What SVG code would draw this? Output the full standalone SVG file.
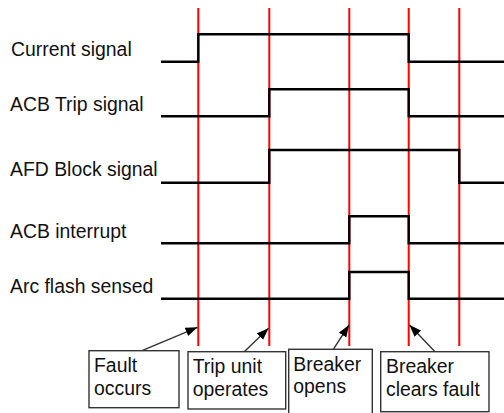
<svg xmlns="http://www.w3.org/2000/svg" width="504" height="413" viewBox="0 0 504 413">
  <style>
    .lbl { font-family: "Liberation Sans", Arial, sans-serif; font-size: 19.4px; fill: #111; }
    .sig { fill: none; stroke: #000; stroke-width: 2.4; stroke-linejoin: miter; }
    .red { stroke: #ff0000; stroke-width: 2; }
    .box { fill: #fff; stroke: #333; stroke-width: 1.4; }
    .arr { stroke: #333; stroke-width: 1.4; fill: none; marker-end: url(#ah); }
  </style>
  <defs>
    <marker id="ah" markerUnits="userSpaceOnUse" markerWidth="14" markerHeight="11" refX="12" refY="4.5" orient="auto">
      <path d="M0,0 L12,4.5 L0,9 z" fill="#000"/>
    </marker>
  </defs>
  <rect width="504" height="413" fill="#fff"/>

  <g id="timelines">
    <line class="red" x1="198.3" y1="8" x2="198.3" y2="346"/>
    <line class="red" x1="269.3" y1="8" x2="269.3" y2="346"/>
    <line class="red" x1="349.3" y1="8" x2="349.3" y2="346"/>
    <line class="red" x1="408.7" y1="8" x2="408.7" y2="346"/>
    <line class="red" x1="459.3" y1="8" x2="459.3" y2="346"/>
  </g>

  <g id="current-signal">
    <text class="lbl" x="11" y="55.7">Current signal</text>
    <polyline class="sig" points="161,61.7 198.3,61.7 198.3,34.3 408.7,34.3 408.7,61.7 504,61.7"/>
  </g>
  <g id="acb-trip-signal">
    <text class="lbl" x="10" y="110.5">ACB Trip signal</text>
    <polyline class="sig" points="161,116.3 269.3,116.3 269.3,89.3 408.7,89.3 408.7,116.3 504,116.3"/>
  </g>
  <g id="afd-block-signal">
    <text class="lbl" x="10" y="176">AFD Block signal</text>
    <polyline class="sig" points="161,182.7 269.3,182.7 269.3,150 459.3,150 459.3,182.7 504,182.7"/>
  </g>
  <g id="acb-interrupt">
    <text class="lbl" x="10" y="237.7">ACB interrupt</text>
    <polyline class="sig" points="161,243.3 349.3,243.3 349.3,216.3 408.7,216.3 408.7,243.3 504,243.3"/>
  </g>
  <g id="arc-flash-sensed">
    <text class="lbl" x="10" y="293.3">Arc flash sensed</text>
    <polyline class="sig" points="161,298.7 349.3,298.7 349.3,272 408.7,272 408.7,298.7 504,298.7"/>
  </g>

  <g id="connectors">
    <line class="arr" x1="142" y1="350.7" x2="197.5" y2="327.3"/>
    <line class="arr" x1="244.3" y1="351.7" x2="268.5" y2="328.3"/>
    <line class="arr" x1="333.3" y1="349.3" x2="349" y2="325"/>
    <line class="arr" x1="435" y1="351.7" x2="409.5" y2="325"/>
  </g>

  <g id="fault-occurs">
    <rect class="box" x="89" y="350.7" width="90" height="57"/>
    <text class="lbl" x="94" y="372.3">Fault</text>
    <text class="lbl" x="94" y="395">occurs</text>
  </g>
  <g id="trip-unit-operates">
    <rect class="box" x="188" y="351.7" width="97.7" height="57.3"/>
    <text class="lbl" x="192.7" y="373.3">Trip unit</text>
    <text class="lbl" x="192.7" y="395.5">operates</text>
  </g>
  <g id="breaker-opens">
    <rect class="box" x="288.7" y="349.3" width="83.6" height="66"/>
    <text class="lbl" x="293.3" y="371">Breaker</text>
    <text class="lbl" x="293.3" y="393">opens</text>
  </g>
  <g id="breaker-clears-fault">
    <rect class="box" x="380.7" y="351.7" width="108.3" height="60"/>
    <text class="lbl" x="386" y="373.3">Breaker</text>
    <text class="lbl" x="386" y="395.5">clears fault</text>
  </g>
</svg>
